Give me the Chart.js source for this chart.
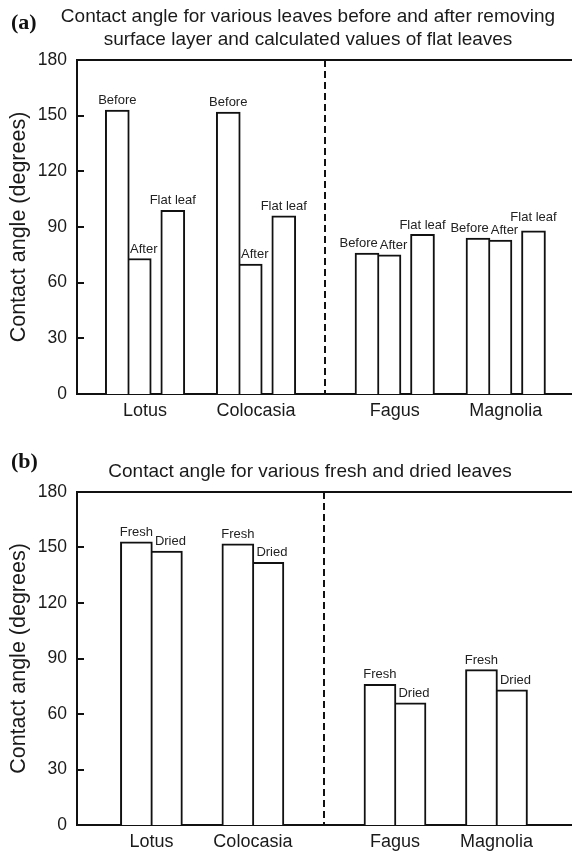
<!DOCTYPE html>
<html>
<head>
<meta charset="utf-8">
<script src="https://cdn.jsdelivr.net/npm/chart.js@4.4.1/dist/chart.umd.min.js"></script>
<style>
  body { margin: 0; background: #fff; }
  #page { position: relative; width: 572px; height: 852px; overflow: hidden; }
  canvas { position: absolute; left: 0; }
  .tag { position: absolute; left: 11px; font: bold 22px/22px "Liberation Serif", serif; color: #111; }
  .title { position: absolute; font: 19px/23px "Liberation Sans", Arial, sans-serif; color: #1a1a1a;
           text-align: center; white-space: nowrap; transform: translateX(-50%); }
</style>
</head>
<body>
<div id="page">
  <canvas id="chartA" width="572" height="430" style="top:0"></canvas>
  <canvas id="chartB" width="572" height="422" style="top:430px"></canvas>
  <div class="tag" style="top:11px">(a)</div>
  <div class="title" style="left:308px;top:4px">Contact angle for various leaves before and after removing<br>surface layer and calculated values of flat leaves</div>
  <div class="tag" style="top:450px">(b)</div>
  <div class="title" style="left:310px;top:459px">Contact angle for various fresh and dried leaves</div>
</div>
<script>
const categories = ["Lotus", "Colocasia", "Fagus", "Magnolia"];
const beforeRemoval = [153, 152, 76, 84];
const afterRemoval = [73, 70, 75, 83];
const flatLeaf = [99, 96, 86, 88];
const freshLeaf = [153, 152, 76, 84];
const driedLeaf = [148, 142, 66, 73];
const yTicks = [0, 30, 60, 90, 120, 150, 180];

const INK = "#111";
const TEXT = "#1a1a1a";
const FONT = "'Liberation Sans', Arial, sans-serif";

// top frame line, inward tick marks and the dashed divider
const frame = {
  id: "frame",
  beforeDatasetsDraw(chart, args, opts) {
    const { ctx, chartArea: a, scales: { x, y } } = chart;
    ctx.save();
    ctx.strokeStyle = INK;
    ctx.lineWidth = 2;
    ctx.beginPath();
    ctx.moveTo(a.left - 1, a.top);
    ctx.lineTo(a.right, a.top);
    y.ticks.forEach((t) => {
      const py = Math.round(y.getPixelForValue(t.value));
      ctx.moveTo(a.left, py);
      ctx.lineTo(a.left + 7, py);
    });
    ctx.stroke();
    const dx = Math.round(x.getPixelForValue(opts.divider));
    ctx.setLineDash([7, 4]);
    ctx.beginPath();
    ctx.moveTo(dx, a.top);
    ctx.lineTo(dx, a.bottom);
    ctx.stroke();
    ctx.restore();
  }
};

// series names written above each bar, nudged apart where they collide
const barLabels = {
  id: "barLabels",
  afterDatasetsDraw(chart) {
    const ctx = chart.ctx;
    const sets = chart.data.datasets;
    ctx.save();
    ctx.font = "13px " + FONT;
    ctx.fillStyle = "#222";
    ctx.textAlign = "center";
    ctx.textBaseline = "middle";
    categories.forEach((_, i) => {
      const boxes = sets.map((ds, d) => {
        const bar = chart.getDatasetMeta(d).data[i];
        return {
          text: ds.label,
          x: bar.x + (ds.labelShift || 0),
          y: bar.y - 9.5,
          w: ctx.measureText(ds.label).width,
          mode: ds.labelMode
        };
      });
      for (let d = 0; d < boxes.length - 1; d++) {
        const a = boxes[d], b = boxes[d + 1];
        const overlap = (a.x + a.w / 2) - (b.x - b.w / 2) + 2;
        if (overlap > 0 && Math.abs(a.y - b.y) < 13) {
          if (a.mode === "left") a.x -= overlap;
          else if (b.mode === "up") b.y = a.y - 13;
        }
      }
      boxes.forEach((b) => ctx.fillText(b.text, b.x, b.y));
    });
    ctx.restore();
  }
};

function buildChart(id, spec) {
  const catPos = categories.map((_, i) => i + (i >= 2 ? spec.gap : 0));
  return new Chart(document.getElementById(id), {
    type: "bar",
    data: {
      datasets: spec.series.map((s) => ({
        label: s.label,
        data: s.values.map((v, i) => ({ x: catPos[i] + s.offset, y: v })),
        backgroundColor: "#fff",
        borderColor: INK,
        borderWidth: 2,
        barThickness: spec.barWidth,
        grouped: false,
        labelShift: s.shift || 0,
        labelMode: s.mode
      }))
    },
    options: {
      responsive: false,
      animation: false,
      layout: { padding: { top: spec.top, left: 0, right: 0, bottom: 0 } },
      plugins: {
        legend: { display: false },
        tooltip: { enabled: false },
        frame: { divider: (catPos[1] + catPos[2]) / 2 }
      },
      scales: {
        x: {
          type: "linear",
          min: spec.xMin,
          max: spec.xMax,
          offset: false,
          grid: { display: false, drawTicks: false },
          border: { display: true, color: INK, width: 2 },
          afterBuildTicks: (scale) => { scale.ticks = catPos.map((v) => ({ value: v })); },
          afterFit: (scale) => { scale.height = spec.axisHeight; },
          ticks: {
            autoSkip: false,
            maxRotation: 0,
            padding: 6,
            color: TEXT,
            font: { family: FONT, size: 18 },
            callback: (v, i) => categories[i]
          }
        },
        y: {
          min: 0,
          max: 180,
          grid: { display: false, drawTicks: false },
          border: { display: true, color: INK, width: 2 },
          afterBuildTicks: (scale) => { scale.ticks = yTicks.map((v) => ({ value: v })); },
          afterFit: (scale) => { scale.width = 77; },
          ticks: { padding: 10, color: TEXT, font: { family: FONT, size: 17.5 } },
          title: {
            display: true,
            text: "Contact angle (degrees)",
            color: TEXT,
            font: { family: FONT, size: 21.5 },
            padding: { top: 6, bottom: 0 }
          }
        }
      }
    },
    plugins: [frame, barLabels]
  });
}

buildChart("chartA", {
  gap: 0.25, xMin: -0.613, xMax: 3.847, barWidth: 24, top: 60, axisHeight: 36,
  series: [
    { label: "Before", values: beforeRemoval, offset: -0.25, mode: "left" },
    { label: "After", values: afterRemoval, offset: -0.052, shift: 4.5 },
    { label: "Flat leaf", values: flatLeaf, offset: 0.25, mode: "up" }
  ]
});

buildChart("chartB", {
  gap: 0.4, xMin: -0.733, xMax: 4.144, barWidth: 32, top: 62, axisHeight: 27,
  series: [
    { label: "Fresh", values: freshLeaf, offset: -0.148 },
    { label: "Dried", values: driedLeaf, offset: 0.148, shift: 4 }
  ]
});
</script>
</body>
</html>
